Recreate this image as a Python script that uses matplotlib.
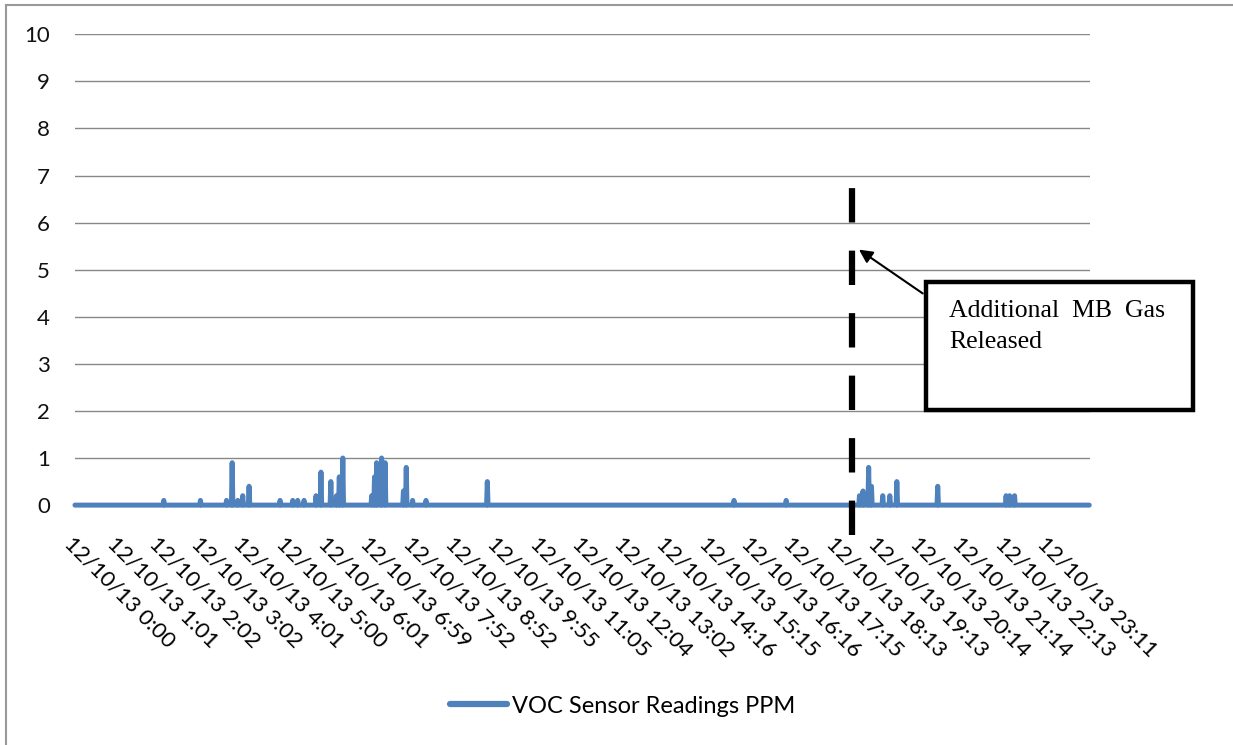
import numpy as np
import matplotlib.pyplot as plt
from matplotlib.lines import Line2D

# readings: one sample per slot, 60 slots between tick labels
n_samples = 1440
tick_labels = ['0:00', '1:01', '2:02', '3:02', '4:01', '5:00', '6:01', '6:59',
               '7:52', '8:52', '9:55', '11:05', '12:04', '13:02', '14:16', '15:15',
               '16:16', '17:15', '18:13', '19:13', '20:14', '21:14', '22:13', '23:11']
spike_idx = [126, 178, 215, 223, 231, 238, 247, 291, 309, 316, 325, 342, 349, 363,
             371, 375, 380, 421, 425, 428, 435, 440, 466, 470, 479, 498, 585, 935,
             1009, 1113, 1118, 1126, 1130, 1146, 1156, 1166, 1224, 1321, 1326, 1333]
spike_val = [0.1, 0.1, 0.1, 0.9, 0.1, 0.2, 0.4, 0.1, 0.1, 0.1, 0.1, 0.2, 0.7, 0.5,
             0.2, 0.6, 1.0, 0.2, 0.6, 0.9, 1.0, 0.9, 0.3, 0.8, 0.1, 0.1, 0.5, 0.1,
             0.1, 0.2, 0.3, 0.8, 0.4, 0.2, 0.2, 0.5, 0.4, 0.2, 0.2, 0.2]
release_idx = 1102

ppm = np.zeros(n_samples)
ppm[spike_idx] = spike_val

fig = plt.figure(figsize=(12.33, 7.45), dpi=100)
ax = fig.add_axes([0.0608, 0.322, 0.8232, 0.632])

ax.plot(np.arange(n_samples), ppm, color='#4F81BD', lw=3.6,
        solid_joinstyle='round', solid_capstyle='round', clip_on=False, zorder=3)

ax.set_xlim(0, n_samples)
ax.set_ylim(0, 10)
ax.set_yticks(range(11))
ax.yaxis.grid(True, color='#888888', lw=1)
ax.set_axisbelow(True)
for s in ax.spines.values():
    s.set_visible(False)

ax.set_xticks(np.arange(len(tick_labels)) * 60)
ax.set_xticklabels(['12/10/13 ' + t for t in tick_labels], rotation=-45,
                   ha='left', va='top', rotation_mode='anchor', fontsize=16,
                   family='Lato')
ax.tick_params(axis='x', length=0, pad=20)
ax.tick_params(axis='y', length=0, pad=18, labelsize=16, labelcolor='#111111')
for lab in ax.get_yticklabels():
    lab.set_family('Lato')

# gas release marker
ax.plot([release_idx, release_idx], [-0.64, 6.75], color='black', lw=4.5,
        dashes=(5.5, 4.5), clip_on=False, zorder=4)

ax.annotate('', xy=(release_idx + 7, 5.46), xycoords='data',
            xytext=(925 / 1233, 1 - 295 / 745), textcoords='figure fraction',
            arrowprops=dict(arrowstyle='-|>', color='black', lw=1.5,
                            mutation_scale=20), zorder=5)

box = plt.Rectangle((926 / 1233, 1 - 410 / 745), 267 / 1233, 128 / 745,
                    transform=fig.transFigure, fill=True, facecolor='white',
                    edgecolor='black', lw=3.2, zorder=6)
fig.patches.append(box)
fig.text(949 / 1233, 1 - 300 / 745, 'Additional  MB  Gas\nReleased',
         family='Liberation Serif', fontsize=18.5, va='top', ha='left',
         linespacing=1.5, zorder=7)

# legend
handle = Line2D([], [], color='#4F81BD', lw=4.5, solid_capstyle='round')
fig.legend([handle], ['VOC Sensor Readings PPM'], loc='center',
           bbox_to_anchor=(0.505, 0.052), frameon=False, handlelength=2.4,
           handletextpad=0.2, prop={'family': 'Lato', 'size': 17})

# chart border (left and top edges)
fig.add_artist(Line2D([6 / 1233, 6 / 1233], [0, 1 - 5 / 745], color='#999999', lw=1.5,
                      transform=fig.transFigure))
fig.add_artist(Line2D([6 / 1233, 1], [1 - 5 / 745, 1 - 5 / 745], color='#999999', lw=1.5,
                      transform=fig.transFigure))

fig.savefig('out.png', dpi=100)
